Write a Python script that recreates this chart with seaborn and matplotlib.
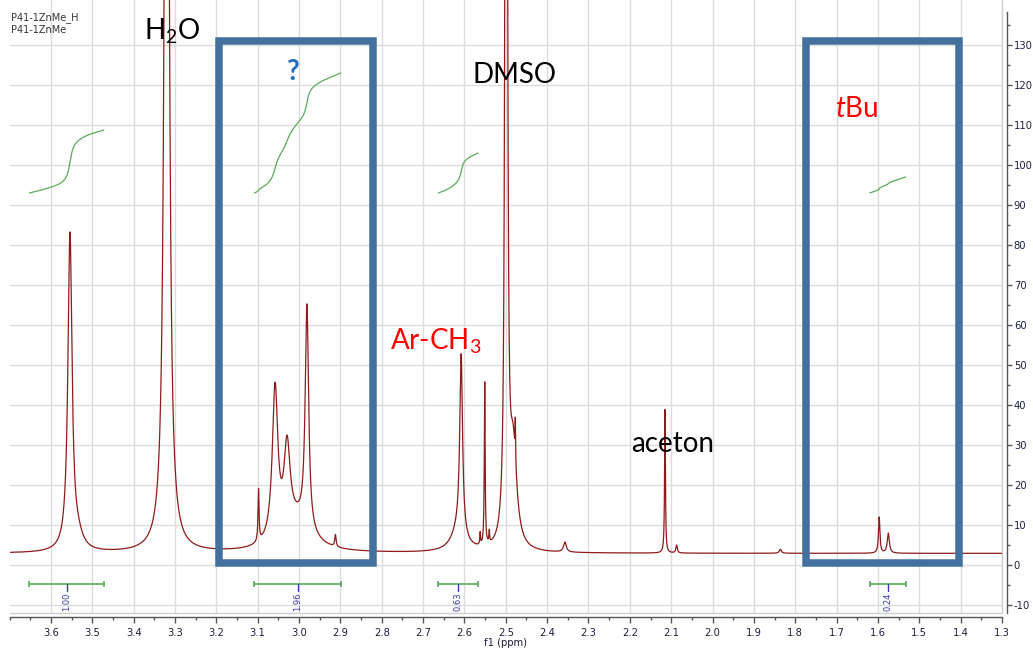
import numpy as np
import pandas as pd
import matplotlib
matplotlib.use("Agg")
import matplotlib.pyplot as plt
import seaborn as sns
from matplotlib.patches import Rectangle
from matplotlib.ticker import MultipleLocator, FixedLocator

# ---------------- data ----------------
peak_ppm    = [3.554, 3.535, 3.320, 3.098, 3.058, 3.029, 3.005, 2.981, 2.912,
               2.615, 2.608, 2.562, 2.551, 2.540, 2.499, 2.482, 2.477, 2.357,
               2.115, 2.087, 1.836, 1.597, 1.575]
peak_height = [79, 3, 400, 13, 38, 21, 7, 56, 3,
               5, 45, 3, 41, 3, 700, 24, 10, 2.5,
               36, 2, 1, 9, 5]
peak_hwhm   = [0.006, 0.015, 0.0048, 0.0015, 0.008, 0.009, 0.04, 0.005, 0.002,
               0.02, 0.004, 0.001, 0.0012, 0.001, 0.0018, 0.01, 0.0007, 0.004,
               0.0012, 0.002, 0.003, 0.002, 0.003]
baseline_level = 2.9

int_lo     = [3.652, 3.108, 2.663, 1.620]
int_hi     = [3.472, 2.899, 2.567, 1.533]
int_start  = [93.0, 93.0, 93.0, 93.0]
int_end    = [108.75, 123.0, 103.0, 97.0]
int_labels = ["1.00", "1.96", "0.63", "0.24"]
int_label_ppm = [3.562, 3.003, 2.615, 1.576]

boxes = [(3.194, 2.821), (1.775, 1.403)]
box_y = (0.4, 130.9)

x_ticks = [round(3.6 - 0.1 * i, 1) for i in range(24)]
y_ticks = list(range(-10, 131, 10))

# ---------------- build spectrum ----------------
ppm = np.linspace(3.7, 1.3, 12000)
inten = np.full_like(ppm, baseline_level)
for p, h, w in zip(peak_ppm, peak_height, peak_hwhm):
    inten += h / (1.0 + ((ppm - p) / w) ** 2)
df = pd.DataFrame({"ppm": ppm, "intensity": inten})

# ---------------- figure ----------------
sns.set_theme(style="white")
plt.rcParams["font.family"] = ["DejaVu Sans"]
plt.rcParams["mathtext.fontset"] = "custom"
plt.rcParams["mathtext.rm"] = "Lato"
plt.rcParams["mathtext.it"] = "Lato:italic"

W, H = 1033, 648
fig = plt.figure(figsize=(W / 100, H / 100), dpi=100)
ax_l, ax_r, ax_t, ax_b = 9.6, 1002, 0, 613
ax = fig.add_axes([ax_l / W, 1 - ax_b / H, (ax_r - ax_l) / W, (ax_b - ax_t) / H])

ax.set_xlim(3.7, 1.3)
ax.set_ylim(-12, 141.25)

# grid
for xv in x_ticks:
    ax.axvline(xv, color="#dcdcdc", lw=1.0, zorder=0)
for yv in y_ticks:
    ax.axhline(yv, color="#dcdcdc", lw=1.0, zorder=0)
ax.plot([0, 1, 1], [0, 0, 1], transform=ax.transAxes, color="#cfcfcf",
        lw=1.0, clip_on=False, zorder=0)

# spectrum
sns.lineplot(data=df, x="ppm", y="intensity", ax=ax, color="#8e1b1b",
             linewidth=0.9, estimator=None, sort=False, zorder=3)

# integral curves and bars
green = "#5aaa5a"
for lo, hi, s, e, lab, lp in zip(int_lo, int_hi, int_start, int_end,
                                 int_labels, int_label_ppm):
    m = (ppm <= lo) & (ppm >= hi)
    seg_x = ppm[m]
    seg_y = inten[m]
    cum = np.concatenate([[0], np.cumsum(0.5 * (seg_y[1:] + seg_y[:-1]) * np.abs(np.diff(seg_x)))])
    curve = s + (e - s) * cum / cum[-1]
    ax.plot(seg_x, curve, color=green, lw=0.9, zorder=4)
    ax.plot([lo, hi], [-4.7, -4.7], color=green, lw=1.2, zorder=4)
    ax.plot([lo, hi], [-4.7, -4.7], ls="none", marker="|", ms=5,
            mew=1.2, color=green, zorder=4)
    ax.plot([lp, lp], [-4.7, -6.6], color="#3a3aa8", lw=1.0, zorder=4)
    ax.text(lp, -6.9, lab, rotation=90, ha="center", va="top",
            fontsize=6, color="#3a3aa8", zorder=5)

# highlight boxes
for x0, x1 in boxes:
    ax.add_patch(Rectangle((x1, box_y[0]), x0 - x1, box_y[1] - box_y[0],
                           fill=False, edgecolor="#44709e", lw=5.4,
                           joinstyle="miter", zorder=6))

# annotations
big = dict(fontsize=20, family="Lato", zorder=7)
ax.text(3.307, 131.25, r"H$_\mathregular{2}$O", ha="center", va="baseline",
        color="black", **big)
ax.text(3.017, 121.25, "?", ha="center", va="baseline", color="#1f6fbf",
        fontweight="bold", **big)
ax.text(2.478, 120.5, "DMSO", ha="center", va="baseline", color="black", **big)
ax.text(1.651, 112.0, r"$t$Bu", ha="center", va="baseline", color="#ff0000", **big)
ax.text(2.669, 53.75, r"Ar-CH$_\mathregular{3}$", ha="center", va="baseline",
        color="#ff0000", **big)
ax.text(2.096, 28.25, "aceton", ha="center", va="baseline", color="black", **big)

fig.text(10.5 / W, 1 - 18 / H, "P41-1ZnMe_H", fontsize=7, color="#333333",
         va="center", ha="left")
fig.text(10.5 / W, 1 - 30 / H, "P41-1ZnMe", fontsize=7, color="#333333",
         va="center", ha="left")

# axes / ticks
for s in ["top", "left"]:
    ax.spines[s].set_visible(False)
ax.spines["bottom"].set_position(("outward", 3))
ax.spines["right"].set_position(("outward", 3.5))
ax.spines["right"].set_bounds(-12, 138.25)
for s in ["bottom", "right"]:
    ax.spines[s].set_visible(True)
    ax.spines[s].set_color("#555555")
    ax.spines[s].set_linewidth(1.0)

ax.yaxis.tick_right()
ax.set_xticks(x_ticks)
ax.set_xticklabels([f"{v:.1f}" for v in x_ticks])
ax.set_yticks(y_ticks)
ax.set_yticklabels([str(v) for v in y_ticks])
ax.xaxis.set_minor_locator(MultipleLocator(0.05))
ax.yaxis.set_minor_locator(FixedLocator(
    [v for v in np.arange(-10, 138, 5) if v % 10 != 0]))
ax.tick_params(axis="x", which="major", direction="out", length=4, width=1,
               color="#555555", labelsize=7.2, labelcolor="#1e1e40", pad=4,
               bottom=True)
ax.tick_params(axis="x", which="minor", direction="out", length=2.5, width=1,
               color="#555555", bottom=True)
ax.tick_params(axis="y", which="major", direction="out", length=3.5, width=1,
               color="#555555", labelsize=7.2, labelcolor="#1e1e40", pad=1.5,
               right=True, left=False)
ax.tick_params(axis="y", which="minor", direction="out", length=2, width=1,
               color="#555555", right=True, left=False)
ax.set_xlabel("f1 (ppm)", fontsize=7.2, color="#1e1e40", labelpad=0)
ax.set_ylabel("")

fig.savefig("out.png", dpi=100)
